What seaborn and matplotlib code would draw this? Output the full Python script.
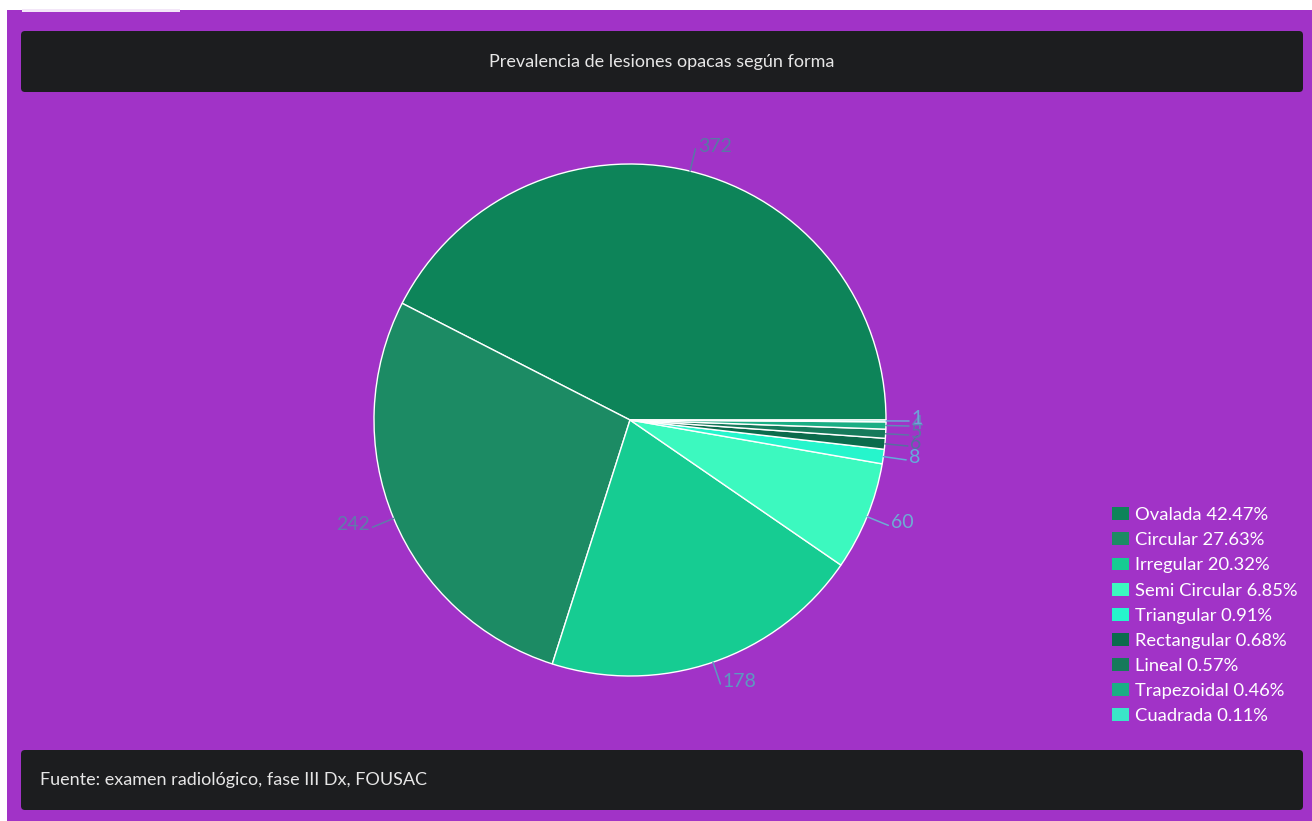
import numpy as np
import matplotlib
matplotlib.use("Agg")
import matplotlib.pyplot as plt
from matplotlib.patches import FancyBboxPatch, Rectangle
import matplotlib.colors as mcolors
import seaborn as sns

# Data: opaque lesion counts by shape
shapes = ["Ovalada", "Circular", "Irregular", "Semi Circular", "Triangular",
          "Rectangular", "Lineal", "Trapezoidal", "Cuadrada"]
counts = [372, 242, 178, 60, 8, 6, 5, 4, 1]
slice_colors = ["#0d8459", "#1c8b64", "#16cc92", "#3cf9bf", "#26f5cc",
                "#0b6b4c", "#167a5b", "#1aae84", "#3ae6c8"]
title_text = "Prevalencia de lesiones opacas según forma"
source_text = "Fuente: examen radiológico, fase III Dx, FOUSAC"

sns.set_theme(style="white")
plt.rcParams["font.family"] = ["Lato", "DejaVu Sans"]

W, H = 1312, 821
BG = "#a133c7"
PANEL = "#1c1d1f"

fig = plt.figure(figsize=(W / 100, H / 100), dpi=100)
fig.patch.set_facecolor("white")

# Overlay axes in pixel coordinates for the background panels
bg = fig.add_axes([0, 0, 1, 1])
bg.set_xlim(0, W)
bg.set_ylim(H, 0)
bg.axis("off")
bg.add_patch(Rectangle((7, 10), W - 7, H - 10, facecolor=BG, edgecolor="none"))
bg.add_patch(Rectangle((22, 9), 158, 3, facecolor="#f3e6f8", edgecolor="none"))
bg.add_patch(FancyBboxPatch((21, 31), 1282, 61, boxstyle="round,pad=0,rounding_size=4",
                            facecolor=PANEL, edgecolor="none"))
bg.add_patch(FancyBboxPatch((21, 750), 1282, 60, boxstyle="round,pad=0,rounding_size=4",
                            facecolor=PANEL, edgecolor="none"))
bg.text(662, 62, title_text, color="#e6e6e6", fontsize=13, ha="center", va="center")
bg.text(40, 780, source_text, color="#e6e6e6", fontsize=13, ha="left", va="center")

# Pie axes: centre at (630, 420) px, radius 258 px
cx, cy, R, half = 630, 420, 258, 320
ax = fig.add_axes([(cx - half) / W, (H - cy - half) / H, 2 * half / W, 2 * half / H])
ax.set_xlim(-half / R, half / R)
ax.set_ylim(-half / R, half / R)
ax.axis("off")

palette = sns.color_palette(slice_colors)
wedges, _ = ax.pie(counts, colors=palette, startangle=0, counterclock=True, radius=1,
                   wedgeprops=dict(edgecolor="white", linewidth=1))

bgc = np.array(mcolors.to_rgb(BG))
tint = np.array(mcolors.to_rgb("#8fa0ff"))
for w, val, col in zip(wedges, counts, palette):
    ang = np.deg2rad((w.theta1 + w.theta2) / 2)
    c = np.array(col)
    lab = np.clip(0.45 * c + 0.25 * bgc + 0.30 * tint, 0, 1)
    x0, y0 = np.cos(ang), np.sin(ang)
    x1, y1 = 1.09 * x0, 1.09 * y0
    ax.plot([x0, x1], [y0, y1], color=lab, lw=1.1)
    ha = "left" if x0 >= 0 else "right"
    dx = 0.01 if x0 >= 0 else -0.01
    ax.text(x1 + dx, y1 + 0.01, str(val), color=lab, fontsize=14, ha=ha, va="center")

# Legend with percentages
total = sum(counts)
labels = [f"{s} {v / total * 100:.2f}%" for s, v in zip(shapes, counts)]
leg = fig.legend(wedges, labels, loc="upper left", bbox_to_anchor=(1112 / W, 1 - 507 / H),
                 frameon=False, fontsize=13.2, labelcolor="white", handlelength=0.95,
                 handleheight=0.7, handletextpad=0.3, labelspacing=0.5, borderpad=0,
                 borderaxespad=0)
for h in leg.legend_handles:
    h.set_edgecolor("none")

fig.savefig("out.png", dpi=100, facecolor=fig.get_facecolor())
